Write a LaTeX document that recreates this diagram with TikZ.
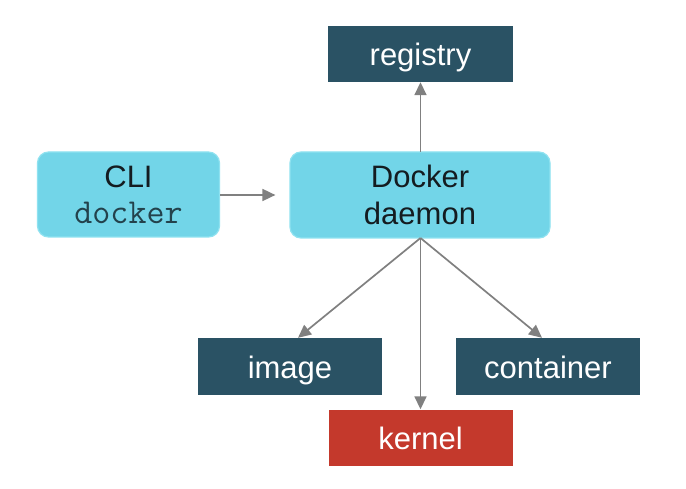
\documentclass[tikz,border=0pt]{standalone}
\usepackage{fontspec}
\setmainfont{Liberation Sans}
\usetikzlibrary{arrows.meta}
\definecolor{cyanbox}{HTML}{72D5E8}
\definecolor{cyanedge}{HTML}{8FE2F0}
\definecolor{darkbox}{HTML}{2A5264}
\definecolor{redbox}{HTML}{C4392C}
\definecolor{arrowgray}{HTML}{808080}
\definecolor{txtdark}{HTML}{141C20}
\definecolor{monotxt}{HTML}{23424C}
\tikzset{
  softbox/.style={fill=cyanbox, draw=cyanedge, line width=1.2pt, rounded corners=11pt,
    text=txtdark, align=center, inner sep=0pt,
    font=\fontsize{31}{37}\selectfont},
  darkrect/.style={fill=darkbox, draw=none, text=white, inner sep=0pt,
    text height=30pt, text depth=6pt,
    font=\fontsize{31}{36}\selectfont},
  redrect/.style={darkrect, fill=redbox},
  conn/.style={draw=arrowgray, line width=1.7pt,
    -{Triangle[length=13pt,width=12pt]}}
}
\begin{document}
\begin{tikzpicture}[x=1pt,y=-1pt]
\useasboundingbox[fill=white] (0,0) rectangle (686,489);
% boxes
\node[darkrect, minimum width=185pt, minimum height=56pt] (registry) at (420.5,54) {registry};
\node[softbox, minimum width=182pt, minimum height=85pt] (cli) at (128.5,194.5)
  {\raisebox{-2pt}{CLI}\\[1pt]{\ttfamily\fontsize{35}{37}\selectfont\color{monotxt}docker}};
\node[softbox, minimum width=260pt, minimum height=86pt] (daemon) at (420,195)
  {Docker\\daemon};
\node[darkrect, minimum width=184pt, minimum height=57pt] (image) at (290,366.5) {image};
\node[darkrect, minimum width=184pt, minimum height=57pt] (container) at (548,366.5) {container};
\node[redrect, minimum width=184pt, minimum height=56pt] (kernel) at (420.5,437.5) {kernel};
% connectors
\coordinate (dtop) at (420.5,152);
\coordinate (dbot) at (420.5,238);
\draw[conn, shorten >=14pt] (cli.east |- 0,195) -- (daemon.west);
\draw[conn] (dtop) -- (registry.south);
\draw[conn] (dbot) -- (kernel.north);
\draw[conn] (dbot) -- (image.north -| 298,0);
\draw[conn] (dbot) -- (container.north -| 542,0);
\end{tikzpicture}
\end{document}
